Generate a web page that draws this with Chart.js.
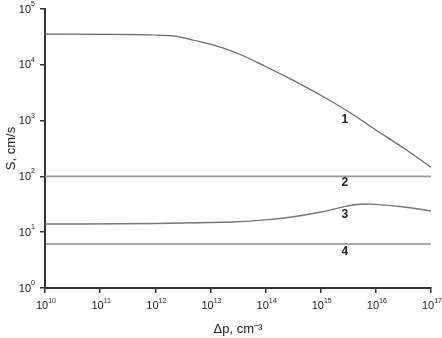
<!DOCTYPE html>
<html>
<head>
<meta charset="utf-8">
<script src="https://cdn.jsdelivr.net/npm/chart.js@4/dist/chart.umd.min.js"></script>
<style>
  html, body { margin: 0; padding: 0; background: #fff; }
  #wrap { width: 442px; height: 338px; }
</style>
</head>
<body>
<div id="wrap"><canvas id="grafico"></canvas></div>
<script>
// datos (Δp en cm^-3, S en cm/s)
var dp1 = [1e10, 1e11, 1e12, 2e12, 3e12, 5e12, 1e13, 3e13, 1e14, 3e14, 1e15, 3e15, 1e16, 3e16, 1e17];
var s1  = [3.55e4, 3.52e4, 3.42e4, 3.3e4, 3.1e4, 2.75e4, 2.35e4, 1.63e4, 9.35e3, 5.43e3, 2.85e3, 1.5e3, 680, 335, 146];

var dp2 = [1e10, 1e12, 1e14, 1e16, 1e17];
var s2  = [100, 100, 100, 100, 100];

var dp3 = [1e10, 1e12, 1e13, 3e13, 1e14, 3e14, 1e15, 3e15, 6e15, 1e16, 3e16, 1e17];
var s3  = [14.0, 14.3, 14.9, 15.4, 16.6, 18.7, 23, 29.4, 32, 31.5, 28.5, 24];

var dp4 = [1e10, 1e12, 1e14, 1e16, 1e17];
var s4  = [6.15, 6.15, 6.15, 6.15, 6.15];

// etiquetas de las curvas
var curvaTxt = ['1', '2', '3', '4'];
var curvaX   = [2.75e15, 2.75e15, 2.75e15, 2.75e15];
var curvaY   = [1020, 76, 20.4, 4.4];

var xTicks = [10, 11, 12, 13, 14, 15, 16, 17];
var yTicks = [0, 1, 2, 3, 4, 5];

function pares(xs, ys) {
  return xs.map(function(x, i) { return {x: x, y: ys[i]}; });
}

function serie(xs, ys, color, ancho) {
  return {
    data: pares(xs, ys),
    borderColor: color,
    borderWidth: ancho,
    pointRadius: 0,
    fill: false,
    cubicInterpolationMode: 'monotone'
  };
}

var FUENTE = '"Liberation Sans", Arial, sans-serif';

// dibuja las etiquetas 10^n y los numeros de curva
var etiquetas = {
  id: 'etiquetas',
  afterDraw: function(chart) {
    var ctx = chart.ctx;
    var xs = chart.scales.x, ys = chart.scales.y;
    ctx.save();
    ctx.fillStyle = '#222';
    ctx.textBaseline = 'middle';

    // eje x
    xTicks.forEach(function(e) {
      var px = xs.getPixelForValue(Math.pow(10, e));
      ctx.font = '11px ' + FUENTE;
      var w1 = ctx.measureText('10').width;
      ctx.font = '7px ' + FUENTE;
      var w2 = ctx.measureText(String(e)).width;
      var x0 = px - (w1 + w2) / 2 + 1;
      ctx.textAlign = 'left';
      ctx.font = '11px ' + FUENTE;
      ctx.fillText('10', x0, 306);
      ctx.font = '7px ' + FUENTE;
      ctx.fillText(String(e), x0 + w1, 301);
    });

    // eje y
    yTicks.forEach(function(e) {
      var py = ys.getPixelForValue(Math.pow(10, e));
      ctx.font = '7px ' + FUENTE;
      var w2 = ctx.measureText(String(e)).width;
      ctx.textAlign = 'right';
      ctx.fillText(String(e), 35, py - 5);
      ctx.font = '11px ' + FUENTE;
      ctx.fillText('10', 35 - w2, py + 0.5);
    });

    // numeros de curva
    ctx.font = 'bold 12px ' + FUENTE;
    ctx.textAlign = 'center';
    curvaTxt.forEach(function(t, i) {
      ctx.fillText(t, xs.getPixelForValue(curvaX[i]), ys.getPixelForValue(curvaY[i]));
    });
    ctx.restore();
  }
};

function soloDecadas(scale) {
  scale.ticks = scale.ticks.filter(function(t) {
    var l = Math.log10(t.value);
    return Math.abs(l - Math.round(l)) < 1e-9;
  });
}

new Chart(document.getElementById('grafico'), {
  type: 'line',
  data: {
    datasets: [
      serie(dp1, s1, '#666', 1.2),
      serie(dp2, s2, '#999', 1.6),
      serie(dp3, s3, '#777', 1.4),
      serie(dp4, s4, '#555', 1.1)
    ]
  },
  options: {
    responsive: true,
    maintainAspectRatio: false,
    animation: false,
    layout: { padding: { top: 9, right: 11, left: 0, bottom: 0 } },
    plugins: { legend: { display: false }, tooltip: { enabled: false } },
    scales: {
      x: {
        type: 'logarithmic',
        min: 1e10,
        max: 1e17,
        afterBuildTicks: soloDecadas,
        afterFit: function(s) { s.height = 50; },
        grid: { drawOnChartArea: false, drawTicks: true, tickLength: 5, color: '#333', lineWidth: 1.5 },
        border: { display: true, color: '#333', width: 2 },
        ticks: { display: false },
        title: {
          display: true,
          text: 'Δp, cm⁻³',
          color: '#222',
          font: { size: 13, family: FUENTE },
          padding: { top: 0, bottom: 1 }
        }
      },
      y: {
        type: 'logarithmic',
        min: 1,
        max: 1e5,
        afterBuildTicks: soloDecadas,
        afterFit: function(s) { s.width = 45; },
        grid: { drawOnChartArea: false, drawTicks: true, tickLength: 5, color: '#333', lineWidth: 1.5 },
        border: { display: true, color: '#333', width: 2 },
        ticks: { display: false },
        title: {
          display: true,
          text: 'S, cm/s',
          color: '#222',
          font: { size: 13, family: FUENTE },
          padding: { top: 4, bottom: 0 }
        }
      }
    }
  },
  plugins: [etiquetas]
});
</script>
</body>
</html>
